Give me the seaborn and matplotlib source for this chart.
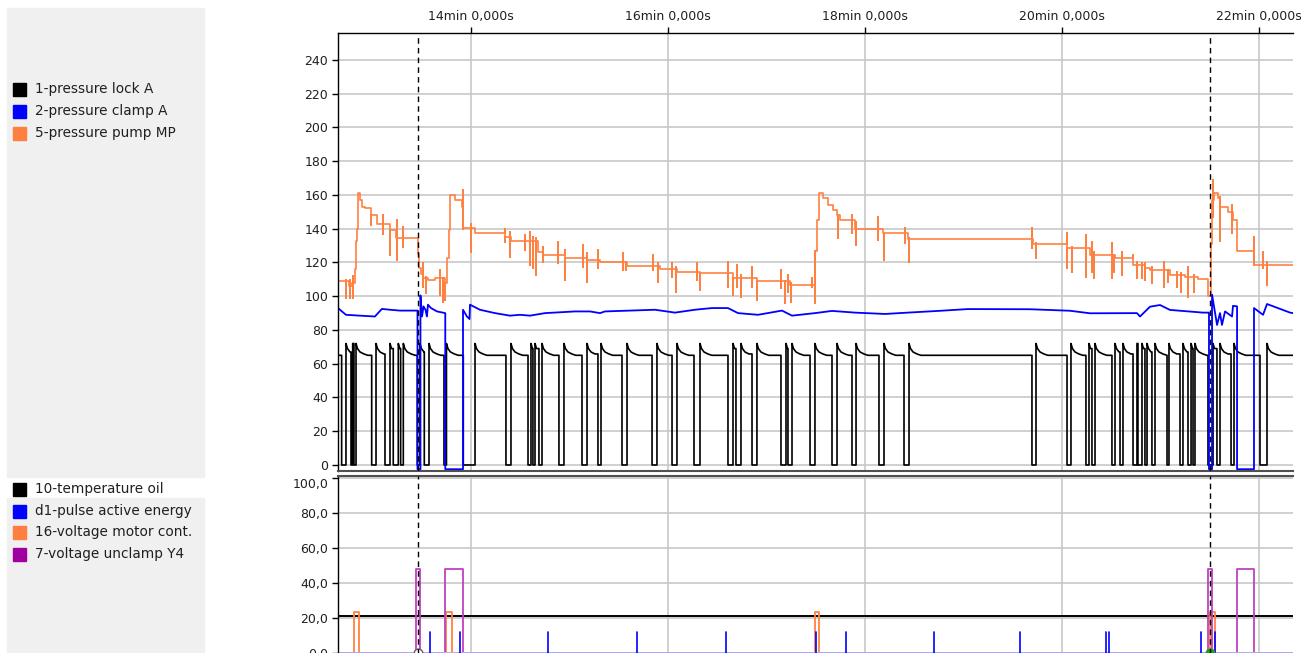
import pandas as pd
import seaborn as sns
import matplotlib.pyplot as plt
from matplotlib.patches import Rectangle
from matplotlib.ticker import FuncFormatter, MultipleLocator

sns.set_theme(style="white")
plt.rcParams["font.family"] = ["DejaVu Sans"]
plt.rcParams["font.size"] = 9

# time window shown (minutes) and the two cursors
T0, T1 = 12.650, 22.345
cursors = [13.462, 21.502]

# 1-pressure lock A : moments the pressure drops to 0 and comes back
lock_drop = [12.687, 12.782, 12.812, 12.992, 13.127, 13.211, 13.286, 13.455, 13.526,
             13.726, 13.922, 14.355, 14.579, 14.629, 14.690, 14.893, 15.127, 15.289,
             15.533, 15.838, 16.041, 16.264, 16.609, 16.690, 16.853, 17.147, 17.218,
             17.442, 17.665, 17.868, 18.142, 18.396, 19.695, 20.051, 20.243, 20.304,
             20.507, 20.589, 20.721, 20.771, 20.842, 20.913, 21.066, 21.198, 21.279,
             21.330, 21.482, 21.573, 21.716, 22.010]
lock_rise = [12.731, 12.799, 12.833, 13.036, 13.178, 13.262, 13.313, 13.482, 13.574,
             13.751, 14.041, 14.406, 14.609, 14.650, 14.721, 14.944, 15.178, 15.320,
             15.584, 15.888, 16.091, 16.325, 16.660, 16.741, 16.903, 17.198, 17.259,
             17.492, 17.716, 17.909, 18.193, 18.447, 19.736, 20.091, 20.274, 20.335,
             20.538, 20.619, 20.761, 20.812, 20.863, 20.944, 21.086, 21.228, 21.310,
             21.350, 21.533, 21.604, 21.746, 22.081]
lock_level = 65
rise_dt = [0.0, 0.015, 0.04, 0.08, 0.12]
rise_val = [72, 69, 67, 65.8, 65]

# 2-pressure clamp A
clamp_t = [12.650, 12.690, 12.731, 12.873, 13.025, 13.056, 13.096, 13.178, 13.279, 13.457,
           13.457, 13.487, 13.487, 13.503, 13.518, 13.538, 13.553, 13.563, 13.594, 13.655,
           13.739, 13.739, 13.919, 13.919, 13.959, 13.985, 13.990, 14.091, 14.244, 14.396,
           14.497, 14.599, 14.751, 14.904, 15.056, 15.208, 15.310, 15.360, 15.614, 15.868,
           16.071, 16.274, 16.447, 16.609, 16.711, 16.914, 17.157, 17.259, 17.492, 17.665,
           17.898, 18.203, 18.436, 18.741, 19.045, 19.675, 20.081, 20.284, 20.761, 20.792,
           20.893, 20.995, 21.096, 21.431, 21.492, 21.492, 21.523, 21.523, 21.574, 21.604,
           21.624, 21.655, 21.726, 21.736, 21.777, 21.777, 21.949, 21.949, 22.041, 22.081,
           22.315, 22.345]
clamp_v = [93, 91, 89, 88.5, 88, 90, 92.5, 92, 91.5, 91.5,
           -2.5, -2.5, 100.5, 88, 94, 92, 88, 95, 93, 91,
           90, -2.5, -2.5, 92, 88, 86.5, 95, 92, 90, 88.5,
           89, 88.5, 90, 90.5, 91, 91, 90, 91, 91.5, 92,
           90.3, 92, 93, 93, 90, 89, 91.5, 88.5, 90, 91.3,
           90.3, 89.5, 90.3, 91.3, 92.4, 92.3, 91.4, 89.9, 90, 88,
           93.8, 94.8, 91.9, 90.3, 90.3, -2.5, -2.5, 101, 83, 90,
           83, 91, 88, 94.3, 94, -2.5, -2.5, 93, 89, 95.4,
           90.3, 90]

# 5-pressure pump MP : step levels
pump_t = [12.650, 12.762, 12.792, 12.820, 12.833, 12.843, 12.858, 12.873, 12.894, 12.924,
          12.985, 13.046, 13.178, 13.239, 13.462, 13.472, 13.492, 13.513, 13.563, 13.635,
          13.736, 13.761, 13.777, 13.792, 13.838, 13.909, 13.919, 14.041, 14.345, 14.406,
          14.680, 14.731, 14.954, 15.178, 15.310, 15.584, 15.919, 16.091, 16.325, 16.660,
          16.903, 17.239, 17.492, 17.513, 17.533, 17.574, 17.624, 17.675, 17.716, 17.746,
          17.898, 18.183, 18.436, 19.706, 20.051, 20.284, 20.538, 20.721, 20.842, 20.893,
          21.096, 21.249, 21.381, 21.482, 21.508, 21.523, 21.543, 21.584, 21.604, 21.685,
          21.736, 21.777, 21.949]
pump_v = [109, 106, 108, 116, 133, 140, 161, 157, 153, 152,
          148, 143, 139, 134.5, 125, 117, 113, 111, 109.5, 111,
          108, 122.7, 139, 160, 157, 153, 140.4, 137.5, 135, 133,
          126, 124.5, 122.6, 121.5, 120, 118, 116.3, 114.6, 113.6, 110.8,
          109.2, 106.7, 127, 145, 161, 158, 154, 151, 148, 145,
          140, 137.5, 134, 131, 128.6, 124.5, 122.6, 118.5, 116.5, 115.6,
          112.6, 111.4, 110, 100, 131, 157, 161, 158, 153, 150,
          145, 127, 118.5]

# 5-pressure pump MP : short glitches (time, low, high)
spike_t = [12.734, 12.769, 12.802, 12.988, 13.107, 13.175, 13.252, 13.310, 13.513, 13.546,
           13.682, 13.716, 13.739, 13.919, 14.003, 14.342, 14.393, 14.545, 14.596, 14.629,
           14.663, 14.731, 14.883, 14.951, 15.137, 15.181, 15.289, 15.543, 15.577, 15.848,
           15.902, 16.038, 16.078, 16.291, 16.325, 16.612, 16.657, 16.697, 16.741, 16.850,
           16.900, 17.147, 17.188, 17.221, 17.249, 17.459, 17.492, 17.722, 17.864, 17.905,
           18.134, 18.195, 18.406, 18.447, 19.691, 19.736, 20.048, 20.098, 20.243, 20.301,
           20.324, 20.504, 20.527, 20.605, 20.717, 20.758, 20.808, 20.842, 20.910, 21.035,
           21.078, 21.164, 21.204, 21.281, 21.339, 21.535, 21.604, 21.723, 21.774, 21.949,
           22.043, 22.077]
spike_lo = [98.8, 98.8, 98.8, 142, 137, 124.4, 121.5, 129.4, 105.6, 101.7,
            100.7, 96.8, 97.8, 140, 126.4, 132.3, 123.5, 127.4, 118.5, 116.5,
            112.6, 120.5, 119.5, 109.6, 117.5, 108.6, 116.5, 115.6, 115.6, 115.6,
            108.6, 111.6, 102.7, 109.6, 103.7, 105.7, 100.7, 105.7, 99.7, 105.7,
            97.8, 104.7, 95.8, 102.7, 96.8, 105.7, 95.8, 134.3, 137.3, 130.4,
            133.3, 121.5, 131.4, 120.5, 128.4, 122.5, 116.5, 114.6, 111.6, 114.6,
            110.6, 110.6, 114.6, 112.6, 118.5, 110.6, 110.6, 109.6, 107.7, 105.7,
            108.6, 105.7, 102.7, 99.7, 102.7, 147, 133, 137.3, 129.4, 119.5,
            116.5, 106.7]
spike_hi = [109.6, 109.6, 112, 151, 148, 141, 145, 141, 119.5, 111.6,
            115.6, 109.6, 109.6, 163, 143, 140, 138.3, 136.3, 138.3, 135.3,
            134.3, 129.4, 132.3, 127.4, 130.4, 125.4, 127.4, 125.4, 120.5, 124.4,
            119.5, 119.5, 117.1, 119.5, 113.6, 120.5, 113.6, 118.5, 112.6, 117.1,
            109.6, 115.6, 107.7, 112.6, 107.7, 110.6, 114.6, 148.1, 148.1, 144.2,
            147.1, 137.3, 140.2, 134.3, 140.2, 131.4, 137.3, 129.4, 136.3, 132.3,
            126.4, 131.4, 123.5, 126.4, 124.4, 120.5, 119.5, 119.5, 117.5, 120.5,
            114.6, 114.6, 113.6, 117.5, 112.6, 169, 159, 154.1, 141.2, 135.3,
            126.4, 120.5]

# lower panel
temp_level = 21.0
pulse_t = [13.584, 13.888, 14.782, 15.685, 16.589, 17.503, 17.807, 18.700, 19.574,
           20.447, 20.477, 21.411, 21.553]
pulse_h = 11.7
motor_on = [12.812, 13.746, 17.492, 21.502]
motor_off = [12.863, 13.807, 17.533, 21.553]
motor_h = 23.5
unclamp_on = [13.442, 13.736, 21.482, 21.777]
unclamp_off = [13.482, 13.919, 21.523, 21.949]
unclamp_h = 47.7


def lock_path():
    xs, ys = [T0], [lock_level]
    for i, (d, r) in enumerate(zip(lock_drop, lock_rise)):
        xs += [d, d, r]
        ys += [ys[-1], 0, 0]
        nxt = lock_drop[i + 1] if i + 1 < len(lock_drop) else T1
        for dt, v in zip(rise_dt, rise_val):
            if r + dt < nxt:
                xs.append(r + dt)
                ys.append(v)
    xs.append(T1)
    ys.append(ys[-1])
    return pd.DataFrame({"t": xs, "v": ys})


def pump_path():
    events = [(t, 0, v, v) for t, v in zip(pump_t[1:], pump_v[1:])]
    events += [(t, 1, lo, hi) for t, lo, hi in zip(spike_t, spike_lo, spike_hi)]
    events.sort()
    cur = pump_v[0]
    xs, ys = [pump_t[0]], [cur]
    for t, kind, lo, hi in events:
        if kind == 0:
            xs += [t, t]
            ys += [cur, lo]
            cur = lo
        else:
            xs += [t, t, t, t]
            ys += [cur, hi, lo, cur]
    xs.append(T1)
    ys.append(cur)
    return pd.DataFrame({"t": xs, "v": ys})


def pulse_path(on, off, h):
    xs, ys = [T0], [0]
    for a, b in zip(on, off):
        xs += [a, a, b, b]
        ys += [0, h, h, 0]
    xs.append(T1)
    ys.append(0)
    return pd.DataFrame({"t": xs, "v": ys})


def spike_lines(ts, h):
    rows = []
    for i, t in enumerate(ts):
        rows += [(i, t, 0), (i, t, h)]
    return pd.DataFrame(rows, columns=["id", "t", "v"])


W, H = 1301, 653
fig = plt.figure(figsize=(W / 100, H / 100), dpi=100)

# legend panels on the left
fig.patches.append(Rectangle((7 / W, 1 - 477 / H), 197 / W, 469 / H,
                             transform=fig.transFigure, color="#f0f0f0", zorder=0))
fig.patches.append(Rectangle((7 / W, 0), 197 / W, 155 / H,
                             transform=fig.transFigure, color="#f0f0f0", zorder=0))
legend_rows = [
    ("1-pressure lock A", "#000000", 89),
    ("2-pressure clamp A", "#0000ff", 111),
    ("5-pressure pump MP", "#ff7f40", 133),
    ("10-temperature oil", "#000000", 489),
    ("d1-pulse active energy", "#0000ff", 511),
    ("16-voltage motor cont.", "#ff7f40", 532),
    ("7-voltage unclamp Y4", "#a000a0", 554),
]
for name, col, yy in legend_rows:
    fig.patches.append(Rectangle((13 / W, 1 - (yy + 6.5) / H), 13 / W, 13 / H,
                                 transform=fig.transFigure, color=col, zorder=1))
    fig.text(35 / W, 1 - yy / H, name, va="center", ha="left", fontsize=9.8, color="#202020")

ax = fig.add_axes([338 / W, 1 - 471 / H, 955 / W, 438 / H])
ax2 = fig.add_axes([338 / W, 1 - 660 / H, 955 / W, 184 / H])

grid_col = "#c8c8c8"

# top panel
sns.lineplot(data=lock_path(), x="t", y="v", ax=ax, color="black", lw=1.2,
             estimator=None, sort=False, legend=False)
sns.lineplot(data=pump_path(), x="t", y="v", ax=ax, color="#ff8142", lw=1.2,
             estimator=None, sort=False, legend=False)
sns.lineplot(x=clamp_t, y=clamp_v, ax=ax, color="#0000ff", lw=1.3,
             estimator=None, sort=False, legend=False)

# lower panel
sns.lineplot(x=[T0, T1], y=[temp_level, temp_level], ax=ax2, color="black", lw=1.4,
             estimator=None, sort=False, legend=False)
sns.lineplot(data=pulse_path(motor_on, motor_off, motor_h), x="t", y="v", ax=ax2,
             color="#ff8142", lw=1.3, estimator=None, sort=False, legend=False)
sns.lineplot(data=pulse_path(unclamp_on, unclamp_off, unclamp_h), x="t", y="v", ax=ax2,
             color="#bf40c0", lw=1.3, estimator=None, sort=False, legend=False)
sns.lineplot(x=[T0, T1], y=[0, 0], ax=ax2, color="#b0b0ff", lw=2.0,
             estimator=None, sort=False, legend=False)
sns.lineplot(data=spike_lines(pulse_t, pulse_h), x="t", y="v", units="id", ax=ax2,
             color="#0000ff", lw=1.2, estimator=None, sort=False, legend=False)
ax2.scatter([cursors[1]], [0], s=40, color="#20a020", zorder=5)
ax2.scatter([cursors[0]], [0], s=40, facecolor="white", edgecolor="#606060", zorder=5)

for a in (ax, ax2):
    a.set_xlim(T0, T1)
    a.xaxis.set_major_locator(MultipleLocator(2))
    a.grid(True, color=grid_col, lw=1.2)
    a.set_axisbelow(True)
    a.set_xlabel("")
    a.set_ylabel("")
    for t in cursors:
        a.axvline(t, color="black", ls=(0, (4, 3)), lw=1.0, zorder=6)
    a.spines["right"].set_visible(False)
    a.spines["left"].set_color("black")
    a.spines["left"].set_linewidth(1.0)
    a.tick_params(axis="y", left=True, length=4, width=1, color="black",
                  labelsize=9, labelcolor="#202020", pad=3)

ax.set_ylim(-3.56, 256)
ax.set_yticks(range(0, 241, 20))
ax.xaxis.tick_top()
ax.tick_params(axis="x", top=True, bottom=False, labeltop=True, labelbottom=False,
               length=4, width=1, color="black", labelsize=9, labelcolor="#202020", pad=3)
ax.xaxis.set_major_formatter(FuncFormatter(lambda v, p: f"{int(round(v))}min 0,000s"))
ax.spines["top"].set_color("black")
ax.spines["top"].set_linewidth(1.0)
ax.spines["bottom"].set_color("#505050")
ax.spines["bottom"].set_linewidth(1.5)

ax2.set_ylim(-4.2, 100.9)
ax2.set_yticks(range(0, 101, 20))
ax2.yaxis.set_major_formatter(FuncFormatter(lambda v, p: f"{v:.1f}".replace(".", ",")))
ax2.tick_params(axis="x", top=False, bottom=False, labeltop=False, labelbottom=False)
ax2.spines["top"].set_color("#505050")
ax2.spines["top"].set_linewidth(1.5)
ax2.spines["bottom"].set_visible(False)
fig.canvas.draw()
ax2.get_yticklabels()[-1].set_va("top")

fig.savefig("out.png", dpi=100)
